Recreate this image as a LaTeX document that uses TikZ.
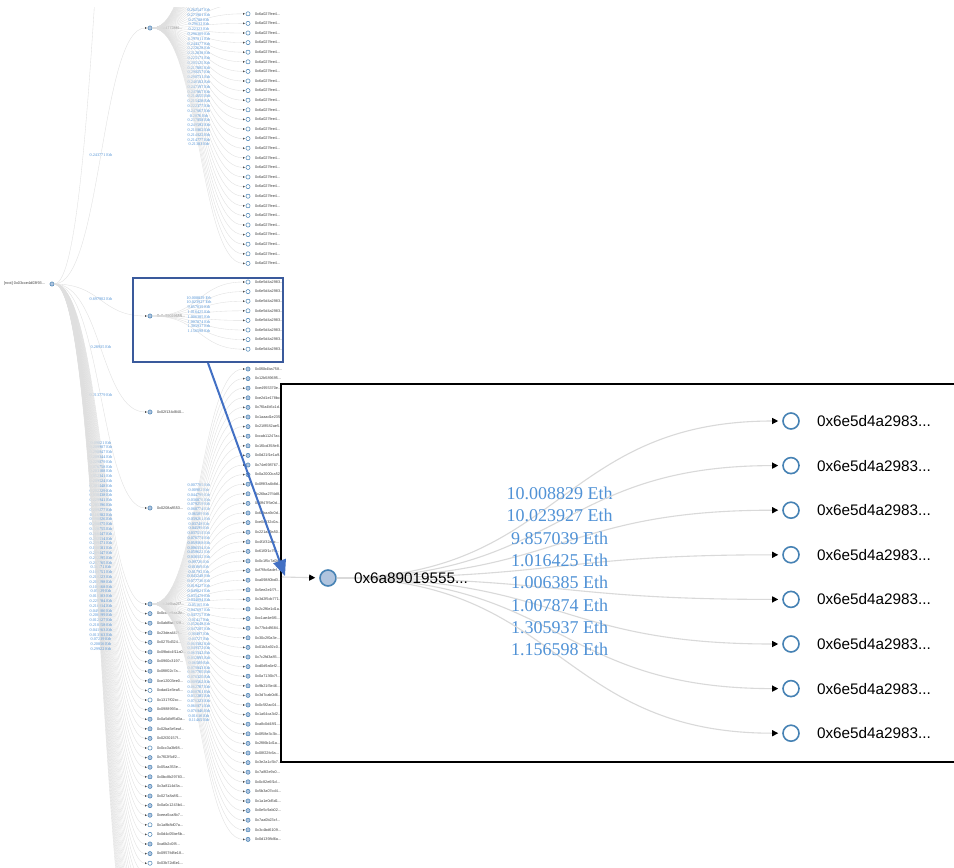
\documentclass[tikz,border=0pt]{standalone}
\usepackage{fontspec}
\setmainfont{Liberation Serif}
\setsansfont{Liberation Sans}
\usetikzlibrary{arrows.meta}

\definecolor{steel}{RGB}{70,130,180}
\definecolor{lightsteel}{RGB}{176,196,222}
\definecolor{amount}{RGB}{80,146,214}
\definecolor{boxblue}{RGB}{58,90,156}
\definecolor{pointer}{RGB}{66,112,196}

\begin{document}
\begin{tikzpicture}
 [x=1pt,y=-1pt,
  main node/.style={circle,fill=lightsteel,draw=steel,line width=0.5pt,minimum size=4.2pt,inner sep=0pt},
  leaf node/.style={main node,fill=white},
  big node/.style={circle,fill=lightsteel,draw=steel,line width=1.6pt,minimum size=16pt,inner sep=0pt},
  big leaf/.style={big node,fill=white},
  addr/.style={inner sep=0pt,font=\sffamily\fontsize{3.8}{4}\selectfont,text=black!75},
  addr label/.style={addr,xshift=4.5pt},
  big addr/.style={inner sep=0pt,xshift=17pt,font=\sffamily\fontsize{15.3}{17}\selectfont},
  eth/.style={midway,inner sep=0pt,yshift=1.3pt,font=\fontsize{4.2}{5}\selectfont,text=amount},
  big eth/.style={midway,inner sep=0pt,yshift=6pt,font=\fontsize{18}{20}\selectfont,text=amount},
  link/.style={draw=gray!25,line width=0.35pt,shorten >=0.8pt,
    -{Triangle[length=1.8pt,width=1.8pt,color=black!70]},
    to path={(\tikztostart.east) .. controls +(#1,0) and +(-#1,0) .. (\tikztotarget.west) \tikztonodes}},
  big link/.style={link=#1,draw=gray!30,line width=1.1pt,shorten >=4pt,
    -{Triangle[length=6pt,width=6pt,color=black]}}]

\useasboundingbox[fill=white] (0,0) rectangle (954,868);
\clip (0,7) rectangle (954,868);

% the whole tree
\node[main node] (root) at (52,284) {};
\node[addr,anchor=east] (rootname) at ([xshift=-4.5pt]root.west) {[root] 0x03cce4d03f93...};

\node[main node] (up) at (150,-480) {};
\node[main node,label={[addr label]right:0x6a47728f4...}] (1) at (150,28) {};
\node[main node,label={[addr label]right:0x6a89019555...}] (2) at (150,316) {};
\node[main node,label={[addr label]right:0x02f134d840...}] (3) at (150,412) {};
\node[main node,label={[addr label]right:0x0208a8553...}] (4) at (150,508) {};

\path
  (root) edge [link=47] (up)
  (root) edge [link=47] node [eth] {0.243771 Eth} (1)
  (root) edge [link=47] node [eth] {0.697902 Eth} (2)
  (root) edge [link=47] node [eth] {0.28935 Eth} (3)
  (root) edge [link=47] node [eth] {0.213779 Eth} (4);

\foreach \fc/\name/\amt [count=\i from 0] in {
  lightsteel/0x0b2d6ba2f7/0.09821, lightsteel/0x0cc4e9aa2b/0.209987,
  lightsteel/0x0ab8ba7f28/0.298047, lightsteel/0x23dea447f/0.209344,
  lightsteel/0x0275d324/0.229879, lightsteel/0x09bdc4f11a0/0.076758,
  lightsteel/0x0960c3197/0.203108, lightsteel/0x0f8f02c7a/0.052341,
  lightsteel/0xe12003ee0/0.209524, white/0xdad1e3ea5/0.201448,
  white/0x1317f02cc/0.202229, lightsteel/0x0988993a/0.030438,
  lightsteel/0x0a5dbff5d3a/0.229941, lightsteel/0x02ba5e5eaf/0.205396,
  lightsteel/0x02f20157f/0.209277, white/0x0cc3a3b98/0.116982,
  lightsteel/0x7f02f5df2/0.090026, lightsteel/0x05aa353e/0.208075,
  lightsteel/0x0bc8b29783/0.228755, lightsteel/0x3a8114d3a/0.266447,
  lightsteel/0x027a8a8f1/0.202514, lightsteel/0x0a0c1243b4/0.209471,
  lightsteel/0xeea5ca8b7/0.108581, white/0x1a8b8d07a/0.289447,
  white/0x0d4c05be5b/0.202295, lightsteel/0xa6b2c0f8/0.207765,
  lightsteel/0x0957fd8e18/0.36171, white/0x03b72d6e1/0.100751,
  lightsteel/0x3c91fa02b/0.218223, lightsteel/0x0b7e41d6c/0.208298,
  lightsteel/0x5d02a7c93/0.108668, lightsteel/0x0e83bf1a4/0.05829,
  lightsteel/0x2a6c7d09e/0.018303, lightsteel/0x0f1d94c2b/0.229784,
  lightsteel/0x6be3a2f50/0.216814, lightsteel/0x0c4a81e7d/0.049306,
  lightsteel/0x1f95d0b3a/0.200299, lightsteel/0x0a3e6c28f/0.012827,
  lightsteel/0x7d4b91a0e/0.210258, lightsteel/0x0e2f5c83b/0.041963,
  lightsteel/0x4c0a9d17f/0.013563, lightsteel/0x0b6e3f4a2/0.07239,
  lightsteel/0x2d8c1b5e7/0.20856, lightsteel/0x09a4f6c1d/0.29922}{
  \ifnum\i<28 \def\lbl{\name...}\else\def\lbl{}\fi
  \node[main node,fill=\fc,label={[addr label]right:\lbl}] (5-\i) at (150,604+9.6*\i) {};
  \path (root) edge [link=47] node [eth] {\amt\ Eth} (5-\i);
}

\foreach \amt [count=\i from 0] in {
  0.231045,0.228806,0.247012,0.219934,0.236601,0.241178,0.209845,0.225573,
  0.238016,0.214492,0.244803,0.229117,0.217365,0.233928,0.246150,0.221874,
  0.212609,0.239482,0.226301,0.226419,0.213401,
  0.262547,0.271901,0.25788,0.29632,0.22323,0.296309,0.297911,0.244377,
  0.222628,0.212838,0.225173,0.205125,0.217805,0.298257,0.298731,0.240102,
  0.247197,0.247867,0.214655,0.215428,0.222377,0.247667,0.2876,0.237858,
  0.249592,0.218862,0.214022,0.214777,0.21383}{
  \ifnum\i>22 \def\lbl{0x6a027fee4...}\else\def\lbl{}\fi
  \ifnum\i>20 \def\eamt{\amt\ Eth}\else\def\eamt{}\fi
  \node[leaf node,label={[addr label]right:\lbl}] (1-\i) at (248,-207+9.6*\i) {};
  \path (1) edge [link=47] node [eth] {\eamt} (1-\i);
}

\foreach \amt [count=\i from 0] in {
  10.008829,10.023927,9.857039,1.016425,1.006385,1.007874,1.305937,1.156598}{
  \node[leaf node,label={[addr label]right:0x6e5d4a2983...}] (2-\i) at (248,282+9.6*\i) {};
  \path (2) edge [link=47] node [eth] {\amt\ Eth} (2-\i);
}

\foreach \name/\amt [count=\i from 0] in {
  0x0f0b4ba758/0.007785, 0x12b589695/0.00982, 0xe4955370e/0.044799,
  0xe2d1e178bc/0.036876, 0x7f0a4b5c1d/0.079259, 0x1aaad1e235/0.068774,
  0x21f8582ae5/0.06509, 0xcab11247ac/0.039261, 0x1f0cd358e8/0.03748,
  0x0d21f1e1a9/0.04599, 0x74e698767/0.037514, 0x0a2000ca52/0.076774,
  0x0f9f3a4b8d/0.059368, 0x26ba27f4d8/0.006334, 0x6ff47f5e0d/0.059622,
  0x62baa9c0d/0.030332, 0xe0cd32c0a/0.09726, 0x221a89a50/0.01069,
  0x4f1f32a6c/0.01792, 0x61f0f1c75/0.045248, 0x0c1f5c7a0b/0.077736,
  0xf7f8c6adef/0.019427, 0xa09880bd3/0.049821, 0x5ee2e1f7f/0.035479,
  0x3d2f5cb771/0.044094, 0x2c2f6e1d1a/0.05165, 0xc1ae4e6f6/0.047697,
  0x77b4d8684/0.047757, 0x30c2f0a3e/0.01417, 0x01b3a92c0/0.052648,
  0x7c2fd3a85/0.047287, 0xd0d9a6ef2/0.00497, 0x0a7136b7f/0.04727,
  0x9b21f3e46/0.063382, 0x3d7cab0d6/0.049372, 0x0c5f2ac04/0.063342,
  0x1a64ca3d2/0.032895, 0xa8c0d48f1/0.06509, 0x0f58e3c3b/0.079843,
  0x2f86b1d1a/0.067705, 0x08f22fc6a/0.076325, 0x3e2a1c5b7/0.009562,
  0x7a8f2e9c0/0.062787, 0x0c82e6f1d/0.008761, 0x5b3a07cd4/0.032285,
  0x1a1e0d5d1/0.076223, 0x0e5c9ab02/0.068871, 0x7aa0b23cf/0.076846,
  0x3c4bd6109/0.01616, 0x0d1398d6a/0.11465}{
  \node[main node,label={[addr label]right:\name...}] (5-0-\i) at (248,369+9.6*\i) {};
  \path (5-0) edge [link=47] node [eth] {\amt\ Eth} (5-0-\i);
}

\node[draw=boxblue,line width=2pt,minimum width=150pt,minimum height=84pt,inner sep=0pt] (zoom) at (208,320) {};

% enlarged subtree
\filldraw[fill=white,draw=black,line width=2pt] (281,384) rectangle (962,762);
\coordinate (in) at (282,577);
\node[big node] (p) at (328,578) {};
\path (in) edge [draw=gray!30,line width=1.1pt,shorten >=4pt,-{Triangle[length=6pt,width=6pt,color=black]}] (p);

\foreach \amt [count=\i] in {
  10.008829,10.023927,9.857039,1.016425,1.006385,1.007874,1.305937,1.156598}{
  \node[big leaf,label={[big addr]right:0x6e5d4a2983...}] (q\i) at (791,421+44.6*\i-44.6) {};
  \path (p) edge [big link=224] node [big eth] {\amt\ Eth} (q\i);
}
\node[big addr,anchor=west] (pname) at (p.east) {0x6a89019555...};

\coordinate (zoomtip) at (285,576);
\draw[pointer,line width=2pt,-{Triangle[length=16pt,width=13pt]}] (zoom.south) -- (zoomtip);

\end{tikzpicture}
\end{document}
